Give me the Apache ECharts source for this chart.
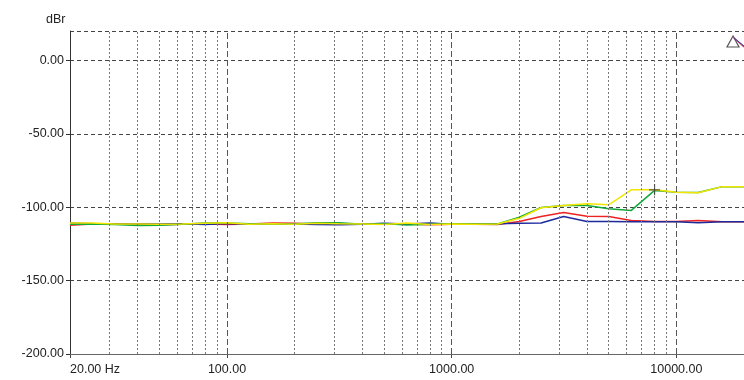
<!DOCTYPE html>
<html><head><meta charset="utf-8">
<script src="https://cdn.jsdelivr.net/npm/echarts@6/dist/echarts.min.js"></script>
<style>html,body{margin:0;padding:0;background:#fff}#c{width:744px;height:380px}</style>
</head><body><div id="c"></div>
<script>
const freqs = [20,25,31.5,40,50,63,80,100,125,160,200,250,315,400,500,630,800,1000,1250,1600,2000,2500,3150,4000,5000,6300,8000,10000,12500,16000,20000];
const redVals = [-112.3,-111.5,-111.2,-111.6,-112,-111.6,-111.5,-111.8,-111.5,-110.8,-111,-111.4,-111.6,-111.6,-111.3,-111.4,-112,-111.6,-111.6,-111.8,-109.7,-106.3,-103.6,-106.1,-106.3,-109,-109.7,-109.7,-109,-110,-110];
const blueVals = [-110.8,-111.3,-111.2,-111.4,-111.5,-111.3,-111.8,-111.2,-111.4,-111.2,-111.4,-111.8,-112,-111.7,-111,-111.4,-110.8,-111.6,-111.6,-111.3,-111,-110.8,-106.3,-109.7,-109.7,-109.9,-109.9,-110,-110.6,-110,-110];
const greenVals = [-111.6,-111.4,-111.8,-112.4,-112.3,-111.6,-110.7,-110.8,-111.3,-111.7,-111.5,-110.6,-110.6,-111.6,-111.2,-112.2,-111.6,-111.3,-111.5,-111.5,-106.8,-100.2,-98.8,-98.8,-101,-102.2,-88.6,-89.8,-90,-86,-86];
const yellowVals = [-110.8,-110.8,-111.5,-111.5,-111.6,-111.4,-111,-110.6,-111.6,-111.3,-111.6,-111,-111.3,-111.4,-111.8,-110.8,-111.8,-111.5,-111.7,-111.5,-107.6,-100.4,-98.8,-97.7,-98.4,-88.2,-88.2,-89.8,-90.2,-86,-86];
const majorGrid = [100,1000,10000];
const minorGrid = [30,40,50,60,70,80,90,200,300,400,500,600,700,800,900,2000,3000,4000,5000,6000,7000,8000,9000];
const cursorPoint = [[8000,-88.2]];
const yTicks = [-200,-150,-100,-50,0];
const yBottom = -200;

const chart = echarts.init(document.getElementById('c'), null, {renderer:'canvas'});
const pair = v => freqs.map((f,i)=>[f,v[i]]);
const lineSeries = (name, vals, color) => ({
  name, type:'line', data: pair(vals), showSymbol:false, silent:true,
  lineStyle:{color, width:1.5}, itemStyle:{color}, animation:false
});
const FONT = 'Liberation Sans, Arial, sans-serif';
chart.setOption({
  animation:false,
  title:{text:'dBr', left:41, top:8, textStyle:{fontSize:12.5, fontWeight:'normal', color:'#222', fontFamily:FONT}},
  grid:{left:70, top:31, width:675, height:323, containLabel:false},
  xAxis:{
    type:'log', logBase:10, min:20, max:20000,
    axisLine:{show:true, onZero:false, lineStyle:{color:'#555', width:1}},
    axisTick:{show:true, length:4, lineStyle:{color:'#444'}},
    splitLine:{show:false},
    axisLabel:{
      color:'#222', fontSize:12.5, fontFamily:FONT, margin:9,
      showMaxLabel:false, alignMinLabel:'left',
      formatter:function(v){ if (Math.abs(v-20)<0.5) return '20.00 Hz'; if (v>15000) return ''; return Number(v).toFixed(2); }
    }
  },
  yAxis:{
    type:'value', min:-200, max:20, interval:50,
    axisLine:{show:true, lineStyle:{color:'#333', width:1}},
    axisTick:{show:true, length:4, lineStyle:{color:'#333'}},
    splitLine:{show:true, lineStyle:{color:'#444', type:[4,3], width:1}},
    axisLabel:{color:'#222', fontSize:12.5, fontFamily:FONT, margin:6, showMaxLabel:false,
      formatter:function(v){ return yTicks.indexOf(v)>=0 ? v.toFixed(2) : ''; }}
  },
  series:[
    {type:'line', data:[], silent:true, markLine:{silent:true, symbol:['none','none'], label:{show:false},
      lineStyle:{color:'#777', type:[2,2], width:1}, animation:false,
      data: minorGrid.map(f=>({xAxis:f}))}},
    {type:'line', data:[], silent:true, markLine:{silent:true, symbol:['none','none'], label:{show:false},
      lineStyle:{color:'#555', type:[6,3], width:1}, animation:false,
      data: majorGrid.map(f=>({xAxis:f}))}},
    {type:'line', data:[], silent:true, z:5, markLine:{silent:true, symbol:['none','none'], label:{show:false},
      lineStyle:{color:'#666', type:'solid', width:1.2}, animation:false,
      data: [{yAxis:yBottom}]}},
    lineSeries('red', redVals, '#ee2222'),
    lineSeries('blue', blueVals, '#1c2a9c'),
    lineSeries('green', greenVals, '#12a83c'),
    lineSeries('yellow', yellowVals, '#f2e600'),
    {type:'scatter', data:cursorPoint, silent:true, symbol:'path://M0,4.5h10v1h-10z M4.5,0h1v10h-1z', symbolSize:11,
      itemStyle:{color:'#333'}, z:10}
  ],
  graphic:[
    {type:'polygon', shape:{points:[[733,36],[727,47],[739,47]]}, style:{fill:'none', stroke:'#555', lineWidth:1.2}, z:20},
    {type:'line', shape:{x1:733, y1:37, x2:744, y2:47}, style:{stroke:'#d04060', lineWidth:1.3}, z:21},
    {type:'line', shape:{x1:734, y1:38, x2:744, y2:46}, style:{stroke:'#3040b0', lineWidth:1}, z:21}
  ]
});
</script></body></html>
